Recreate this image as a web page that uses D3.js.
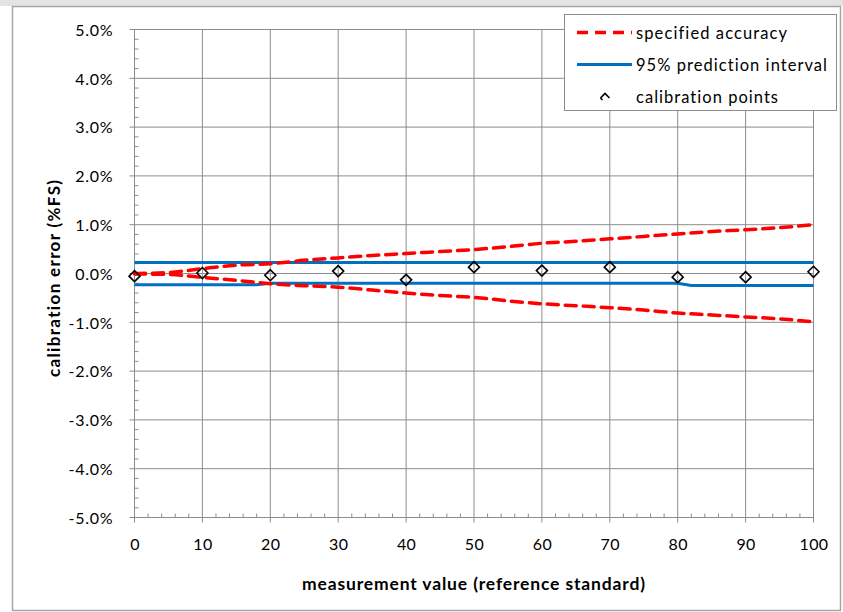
<!DOCTYPE html>
<html>
<head>
<meta charset="utf-8">
<script src="https://cdn.jsdelivr.net/npm/d3@7"></script>
<style>
  html, body { margin: 0; padding: 0; background: #ffffff; }
  svg { display: block; }
  text { font-family: Lato, "Open Sans", "Liberation Sans", sans-serif; fill: #000; font-variant-ligatures: none; }
</style>
</head>
<body>
<svg id="chart" width="843" height="612"></svg>
<script>
// Measurement points along the span (reference standard)
const spanX = [0, 5, 10, 15, 20, 25, 30, 35, 40, 45, 50, 55, 60, 65, 70, 75, 80, 85, 90, 95, 100];
// Specified accuracy envelope, %FS
const accuracyUpper = [0.00, 0.02, 0.10, 0.17, 0.20, 0.27, 0.32, 0.37, 0.41, 0.45, 0.49, 0.55, 0.62, 0.66, 0.71, 0.76, 0.81, 0.86, 0.895, 0.94, 1.00];
const accuracyLower = [-0.01, -0.02, -0.08, -0.14, -0.21, -0.25, -0.28, -0.34, -0.40, -0.45, -0.49, -0.56, -0.62, -0.66, -0.70, -0.75, -0.81, -0.85, -0.89, -0.93, -0.99];

// 95% prediction interval, %FS
const piUpperX = [0, 100];
const piUpper = [0.225, 0.225];
const piLowerX = [0, 18, 20, 80, 82, 100];
const piLower = [-0.23, -0.23, -0.2, -0.2, -0.245, -0.245];

// Calibration points
const calX = [0, 10, 20, 30, 40, 50, 60, 70, 80, 90, 100];
const calErr = [-0.055, 0.01, -0.035, 0.05, -0.13, 0.13, 0.06, 0.13, -0.075, -0.075, 0.035];

// Axis ticks
const xTicks = [0, 10, 20, 30, 40, 50, 60, 70, 80, 90, 100];
const yTicks = [-5, -4, -3, -2, -1, 0, 1, 2, 3, 4, 5];

const legendLabels = ["specified accuracy", "95% prediction interval", "calibration points"];
const legendWidths = [151, 191, 142];

const svg = d3.select("#chart");
const gridColor = "#8c8c8c";
const red = "#ff0000";
const blue = "#0070c0";

// outer chart frame
svg.append("rect").attr("x", 0).attr("y", 0).attr("width", 843).attr("height", 6).attr("fill", "#e4e4e4");
svg.append("rect")
  .attr("x", 12.5).attr("y", 6.5).attr("width", 828).attr("height", 604)
  .attr("fill", "#fff").attr("stroke", "#a6a6a6").attr("stroke-width", 1.5);

const x = d3.scaleLinear().domain([0, 100]).range([134.5, 813.5]);
const y = d3.scaleLinear().domain([-5, 5]).range([517.5, 29.5]);

// grid
const grid = svg.append("g");
grid.selectAll(".hg").data(yTicks).join("line")
  .attr("x1", x(0) - 5).attr("x2", x(100))
  .attr("y1", d => y(d)).attr("y2", d => y(d))
  .attr("stroke", gridColor).attr("stroke-width", 1);
grid.selectAll(".vg").data(xTicks).join("line")
  .attr("x1", d => x(d)).attr("x2", d => x(d))
  .attr("y1", y(5)).attr("y2", y(-5) + 5)
  .attr("stroke", gridColor).attr("stroke-width", 1);

// minor ticks
const yMinor = d3.range(-50, 51, 2).map(v => v / 10).filter(v => Math.abs(v - Math.round(v)) > 1e-6);
grid.selectAll(".ym").data(yMinor).join("line")
  .attr("x1", x(0)).attr("x2", x(0) + 4)
  .attr("y1", d => y(d)).attr("y2", d => y(d))
  .attr("stroke", gridColor);
const xMinor = d3.range(0, 101, 2).filter(v => v % 10 !== 0);
grid.selectAll(".xm").data(xMinor).join("line")
  .attr("x1", d => x(d)).attr("x2", d => x(d))
  .attr("y1", y(-5)).attr("y2", y(-5) - 4)
  .attr("stroke", gridColor);

// tick labels via d3 axes
const pct = d => (d < 0 ? "-" : "") + Math.abs(d).toFixed(1) + "%";
const yAxis = d3.axisLeft(y).tickValues(yTicks).tickSize(0).tickPadding(21).tickFormat(pct);
svg.append("g").attr("transform", `translate(${x(0)},0)`).call(yAxis)
  .call(g => g.select(".domain").remove())
  .call(g => g.selectAll("text").attr("font-size", 16).attr("font-family", "Lato, sans-serif")
    .attr("fill", "#000").style("letter-spacing", "0.8px").attr("dy", "0.36em"));

const xAxis = d3.axisBottom(x).tickValues(xTicks).tickSize(0).tickPadding(0);
svg.append("g").attr("transform", `translate(0,${y(-5)})`).call(xAxis)
  .call(g => g.select(".domain").remove())
  .call(g => g.selectAll("text").attr("font-size", 16).attr("font-family", "Lato, sans-serif")
    .attr("fill", "#000").attr("y", 32.5).attr("dy", 0).style("letter-spacing", "0.4px"));

// axis titles
svg.append("text").attr("x", 473.5).attr("y", 590).attr("text-anchor", "middle")
  .attr("font-size", 17.5).attr("font-weight", "bold")
  .attr("textLength", 343).attr("lengthAdjust", "spacing")
  .text("measurement value (reference standard)");
svg.append("text").attr("transform", "translate(60,278.5) rotate(-90)").attr("text-anchor", "middle")
  .attr("font-size", 17).attr("font-weight", "bold")
  .attr("textLength", 197).attr("lengthAdjust", "spacing")
  .text("calibration error (%FS)");

// series
const plot = svg.append("g");
const smooth = d3.line().x(d => x(d[0])).y(d => y(d[1])).curve(d3.curveMonotoneX);
const straight = d3.line().x(d => x(d[0])).y(d => y(d[1]));

plot.append("path").datum(d3.zip(piUpperX, piUpper)).attr("d", straight)
  .attr("fill", "none").attr("stroke", blue).attr("stroke-width", 3);
plot.append("path").datum(d3.zip(piLowerX, piLower)).attr("d", straight)
  .attr("fill", "none").attr("stroke", blue).attr("stroke-width", 3);

[accuracyUpper, accuracyLower].forEach(vals => {
  plot.append("path").datum(d3.zip(spanX, vals)).attr("d", smooth)
    .attr("fill", "none").attr("stroke", red).attr("stroke-width", 3.5)
    .attr("stroke-dasharray", "11,7").attr("stroke-linecap", "round");
});

const diamond = "M0,-5.5L5.5,0L0,5.5L-5.5,0Z";
plot.selectAll(".cal").data(d3.zip(calX, calErr)).join("path")
  .attr("d", diamond)
  .attr("transform", d => `translate(${x(d[0])},${y(d[1])})`)
  .attr("fill", "none").attr("stroke", "#000").attr("stroke-width", 1.6);

// legend
const lg = svg.append("g");
lg.append("rect").attr("x", 564.5).attr("y", 14.5).attr("width", 272).attr("height", 96)
  .attr("fill", "#fff").attr("stroke", "#8c8c8c").attr("stroke-width", 1);
const rowsY = [32.5, 64.5, 97];
lg.append("line").attr("x1", 577).attr("x2", 632).attr("y1", rowsY[0]).attr("y2", rowsY[0])
  .attr("stroke", red).attr("stroke-width", 3.5).attr("stroke-dasharray", "11,7");
lg.append("line").attr("x1", 577).attr("x2", 632).attr("y1", rowsY[1]).attr("y2", rowsY[1])
  .attr("stroke", blue).attr("stroke-width", 3);
lg.append("path").attr("d", "M-4.5,1.5L0,-3L4.5,1.5M-4.5,1.5L-2.5,3.5")
  .attr("transform", `translate(605,${rowsY[2] - 0.5})`)
  .attr("fill", "none").attr("stroke", "#000").attr("stroke-width", 1.6);
lg.selectAll(".lt").data(legendLabels).join("text")
  .attr("x", 636).attr("y", (d, i) => rowsY[i] + 6)
  .attr("font-size", 16.5)
  .attr("textLength", (d, i) => legendWidths[i]).attr("lengthAdjust", "spacing")
  .text(d => d);
</script>
</body>
</html>
